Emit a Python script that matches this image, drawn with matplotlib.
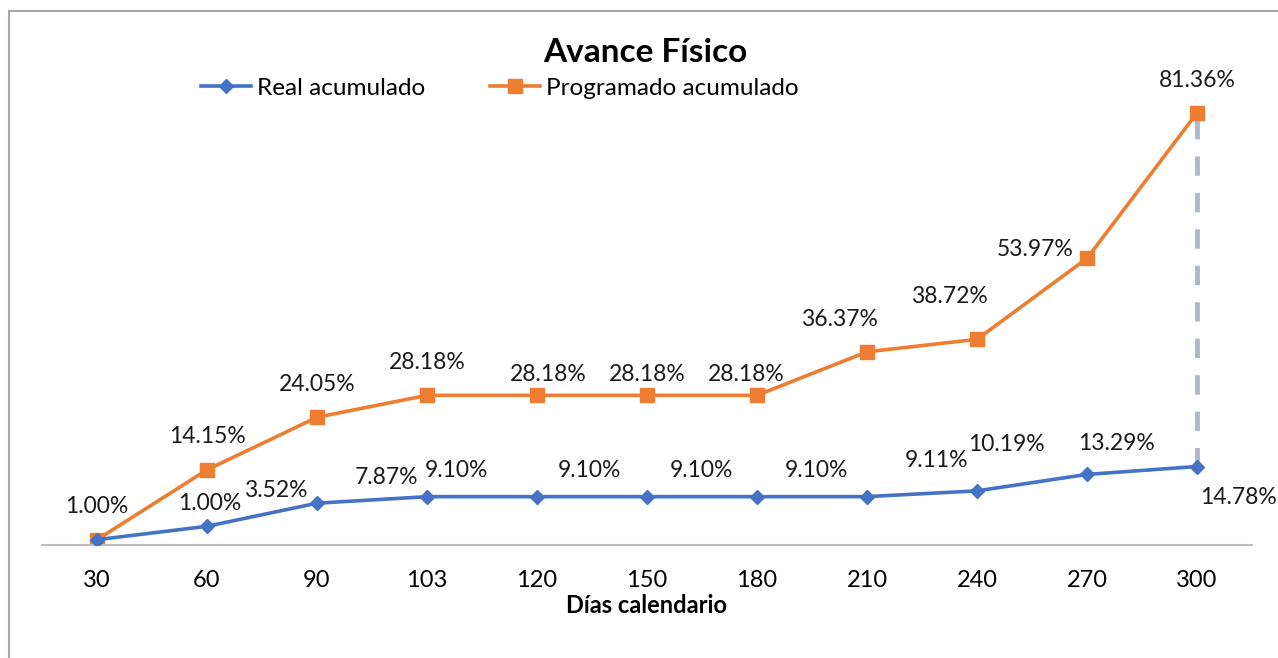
import matplotlib.pyplot as plt
from matplotlib.patches import Rectangle

plt.rcParams['font.family'] = ['Lato', 'DejaVu Sans']

dias = ['30', '60', '90', '103', '120', '150', '180', '210', '240', '270', '300']
real = [1.00, 3.52, 7.87, 9.10, 9.10, 9.10, 9.10, 9.11, 10.19, 13.29, 14.78]
programado = [1.00, 14.15, 24.05, 28.18, 28.18, 28.18, 28.18, 36.37, 38.72, 53.97, 81.36]

# label offsets in pixels (Excel placed them by hand)
off_real = [(113, 36), (69, 36), (69, 26), (29, 26), (52, 26), (54, 26),
            (59, 26), (69, 36), (29, 46), (29, 31), (41, -31)]
off_prog = [(0, 33), (0, 33), (0, 33), (0, 33), (11, 21), (0, 21),
            (-11, 21), (-28, 32), (-28, 43), (-52, 9), (0, 32)]

blue = '#4472C4'
orange = '#ED7D31'

fig = plt.figure(figsize=(12.78, 6.58), dpi=100)
fig.patches.append(Rectangle((9 / 1278, -0.1), 1.2, 1.1 - 11 / 658, transform=fig.transFigure,
                             fill=False, edgecolor='#a6a6a6', linewidth=1.5))

ax = fig.add_axes([42 / 1278, 113 / 658, 1210 / 1278, 478 / 658])
x = range(len(dias))

ax.plot([x[-1], x[-1]], [real[-1], programado[-1]], color='#adb9ca', lw=3.5,
        dashes=(4, 3.5), zorder=1)
ax.plot(x, real, color=blue, lw=2.6, marker='D', markersize=7.5, label='Real acumulado', zorder=3)
ax.plot(x, programado, color=orange, lw=2.6, marker='s', markersize=9.5,
        label='Programado acumulado', zorder=2)

for i, v in enumerate(programado):
    ax.annotate(f'{v:.2f}%', (i, v), xytext=off_prog[i], textcoords='offset pixels',
                ha='center', va='center', fontsize=16.5, color='#1a1a1a')
for i, v in enumerate(real):
    ax.annotate(f'{v:.2f}%', (i, v), xytext=off_real[i], textcoords='offset pixels',
                ha='center', va='center', fontsize=16.5, color='#1a1a1a')

ax.set_xlim(-0.5, len(dias) - 0.5)
ax.set_ylim(0, 90)
ax.set_xticks(list(x))
ax.set_xticklabels(dias, fontsize=17)
ax.tick_params(axis='x', length=0, pad=18)
ax.set_yticks([])
for s in ['top', 'right', 'left']:
    ax.spines[s].set_visible(False)
ax.spines['bottom'].set_color('#bfbfbf')
ax.spines['bottom'].set_linewidth(1.5)
ax.set_xlabel('Días calendario', fontsize=17, fontweight='bold', labelpad=2)

fig.text(645 / 1278, 1 - 52 / 658, 'Avance Físico', ha='center', va='center',
         fontsize=24, fontweight='bold')
ax.legend(loc='center', bbox_to_anchor=(500 / 1278, 1 - 88 / 658), bbox_transform=fig.transFigure,
          ncol=2, frameon=False, fontsize=17.5, handlelength=2.05, handletextpad=0.25,
          columnspacing=2.65)

fig.savefig('out.png', dpi=100)
